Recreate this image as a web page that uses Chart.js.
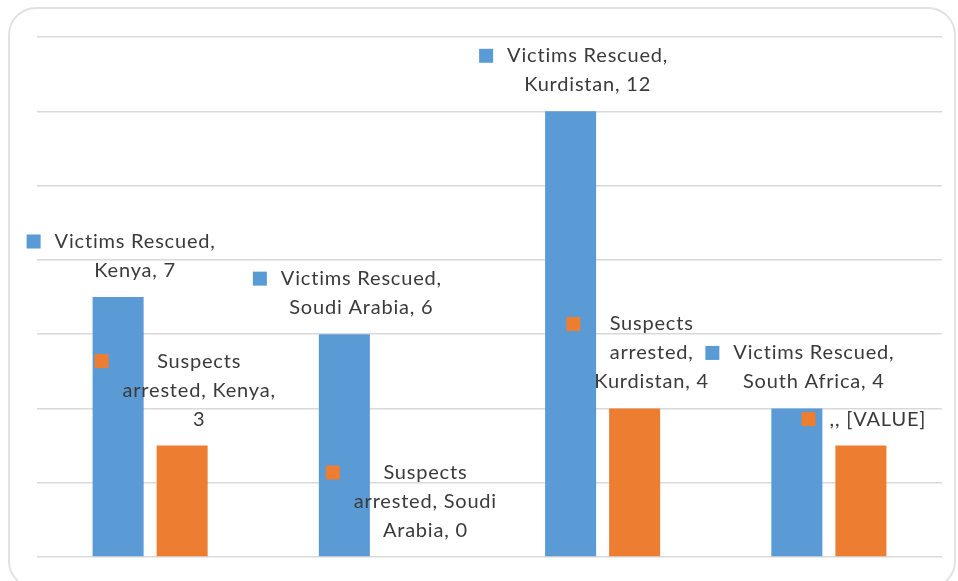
<!DOCTYPE html>
<html>
<head>
<meta charset="utf-8">
<script src="https://cdn.jsdelivr.net/npm/chart.js@4/dist/chart.umd.min.js"></script>
<style>
  html, body { margin: 0; padding: 0; background: #fff; }
  #wrap { position: relative; width: 958px; height: 581px; overflow: hidden; }
  #card {
    position: absolute; left: 8px; top: 7px; width: 948px; height: 582px;
    border: 2px solid #e2e2e2; border-radius: 28px; box-sizing: border-box;
  }
  #myChart { position: absolute; left: 0; top: 0; }
</style>
</head>
<body>
<div id="wrap">
  <div id="card"></div>
  <canvas id="myChart" width="958" height="581"></canvas>
</div>
<script>
"use strict";

const categories = ["Kenya", "Soudi Arabia", "Kurdistan", "South Africa"];
const victimsRescued = [7, 6, 12, 4];
const suspectsArrested = [3, 0, 4, 3];
const yTicks = [0, 2, 4, 6, 8, 10, 12, 14];

// data labels as they appear (already wrapped)
const victimsLabels = [
  ["Victims Rescued,", "Kenya, 7"],
  ["Victims Rescued,", "Soudi Arabia, 6"],
  ["Victims Rescued,", "Kurdistan, 12"],
  ["Victims Rescued,", "South Africa, 4"]
];
const suspectsLabels = [
  ["Suspects", "arrested, Kenya,", "3"],
  ["Suspects", "arrested, Soudi", "Arabia, 0"],
  ["Suspects", "arrested,", "Kurdistan, 4"],
  [",, [VALUE]"]
];

const BLUE = "#5b9bd5";
const ORANGE = "#ed7d31";
const FONT = "20px Lato, 'Open Sans', sans-serif";

// draws Excel style labels: colour key + centred lines above each bar
const labelPlugin = {
  id: "excelLabels",
  afterDatasetsDraw(chart) {
    const ctx = chart.ctx;
    ctx.save();
    ctx.font = FONT;
    ctx.letterSpacing = "0.8px";
    ctx.fillStyle = "#3a3a3a";
    ctx.textBaseline = "middle";
    ctx.textAlign = "center";
    const lineH = 29;
    const key = 14, gap = 14;
    chart.data.datasets.forEach((ds, di) => {
      const meta = chart.getDatasetMeta(di);
      meta.data.forEach((bar, i) => {
        const lines = ds.labelLines[i];
        const textW = Math.max(...lines.map(l => ctx.measureText(l).width));
        const blockW = key + gap + textW;
        const left = bar.x + 3 - blockW / 2;
        const textCx = left + key + gap + textW / 2;
        const lastY = bar.y - 26.5;
        const firstY = lastY - (lines.length - 1) * lineH;
        ctx.fillStyle = ds.backgroundColor;
        ctx.fillRect(left, firstY - key / 2, key, key);
        ctx.fillStyle = "#3a3a3a";
        lines.forEach((l, k) => ctx.fillText(l, textCx, firstY + k * lineH));
      });
    });
    ctx.restore();
  }
};

const config = {
  type: "bar",
  data: {
    labels: categories,
    datasets: [
      {
        label: "Victims Rescued",
        data: victimsRescued,
        backgroundColor: BLUE,
        labelLines: victimsLabels
      },
      {
        label: "Suspects arrested",
        data: suspectsArrested,
        backgroundColor: ORANGE,
        labelLines: suspectsLabels
      }
    ]
  },
  options: {
    responsive: false,
    animation: false,
    categoryPercentage: 0.566,
    barPercentage: 0.797,
    layout: { padding: { left: 37, top: 37, right: 16, bottom: 24 } },
    plugins: {
      legend: { display: false },
      tooltip: { enabled: false }
    },
    scales: {
      x: {
        display: false
      },
      y: {
        min: yTicks[0],
        max: yTicks[yTicks.length - 1],
        afterBuildTicks: axis => { axis.ticks = yTicks.map(v => ({ value: v })); },
        ticks: { display: false },
        border: { display: false },
        grid: { color: "#d9d9d9", lineWidth: 1.5, drawTicks: false }
      }
    }
  },
  plugins: [labelPlugin]
};

new Chart(document.getElementById("myChart").getContext("2d"), config);
</script>
</body>
</html>
